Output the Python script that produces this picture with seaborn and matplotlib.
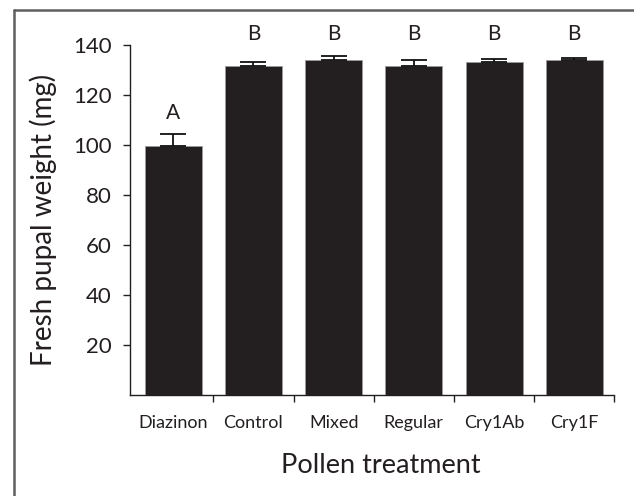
import numpy as np
import pandas as pd
import matplotlib
matplotlib.use('Agg')
import matplotlib.pyplot as plt
from matplotlib.lines import Line2D
from matplotlib.ticker import FixedLocator
import seaborn as sns

# --- datos ---
categories = ['Diazinon', 'Control', 'Mixed', 'Regular', 'Cry1Ab', 'Cry1F']
means = [99.6, 131.8, 134.2, 131.8, 133.4, 134.2]
se = [4.9, 1.5, 1.4, 2.1, 1.2, 0.6]
letters = ['A', 'B', 'B', 'B', 'B', 'B']
letter_y = [113, 144.6, 144.6, 144.6, 144.6, 144.6]
yticks = [20, 40, 60, 80, 100, 120, 140]

df = pd.DataFrame({'treatment': categories, 'weight': means})

sns.set_style('ticks')
plt.rcParams['font.family'] = ['Lato', 'DejaVu Sans']

fig = plt.figure(figsize=(6.34, 4.96), dpi=100)
ax = fig.add_axes([0.205, 0.203, 0.764, 0.706])

sns.barplot(data=df, x='treatment', y='weight', color='#231f20',
            saturation=1, width=0.71, errorbar=None, ax=ax,
            edgecolor='#9a9a9a', linewidth=0.6)

# barras de error solo hacia arriba
x = np.arange(len(categories))
ax.errorbar(x, means, yerr=[np.zeros(len(se)), se], fmt='none',
            ecolor='#111111', elinewidth=1.3, capsize=9.5, capthick=1.3)

for xi, lab, ly in zip(x, letters, letter_y):
    ax.text(xi, ly, lab, ha='center', va='center', fontsize=15,
            color='#231f20', clip_on=False)

ax.set_ylim(0, 140)
ax.set_xlim(-0.54, 5.5)
ax.set_yticks(yticks)
ax.set_yticklabels([str(t) for t in yticks])

# marcas del eje x entre categorias
ax.xaxis.set_minor_locator(FixedLocator(np.arange(0.5, 6, 1)))
ax.tick_params(axis='x', which='major', length=0, pad=14, labelsize=13)
ax.tick_params(axis='x', which='minor', length=5, width=1, color='#231f20')
ax.tick_params(axis='y', length=5, width=1, color='#231f20', labelsize=16, pad=8)

for side in ['top', 'right']:
    ax.spines[side].set_visible(False)
for side in ['left', 'bottom']:
    ax.spines[side].set_linewidth(1)
    ax.spines[side].set_color('#231f20')

ax.set_xlabel('Pollen treatment', fontsize=19.5, labelpad=16, color='#231f20')
ax.xaxis.label.set_x(0.518)
ax.set_ylabel('Fresh pupal weight (mg)', fontsize=20, labelpad=12, color='#231f20')
for t in ax.get_xticklabels() + ax.get_yticklabels():
    t.set_color('#231f20')

# marco gris de la figura (solo arriba e izquierda visibles)
fig.add_artist(Line2D([14 / 634, 1], [1 - 10 / 496, 1 - 10 / 496],
                      transform=fig.transFigure, color='#5f5f5f', lw=1.8))
fig.add_artist(Line2D([14 / 634, 14 / 634], [0, 1 - 10 / 496],
                      transform=fig.transFigure, color='#5f5f5f', lw=1.8))

fig.savefig('out.png', dpi=100)
